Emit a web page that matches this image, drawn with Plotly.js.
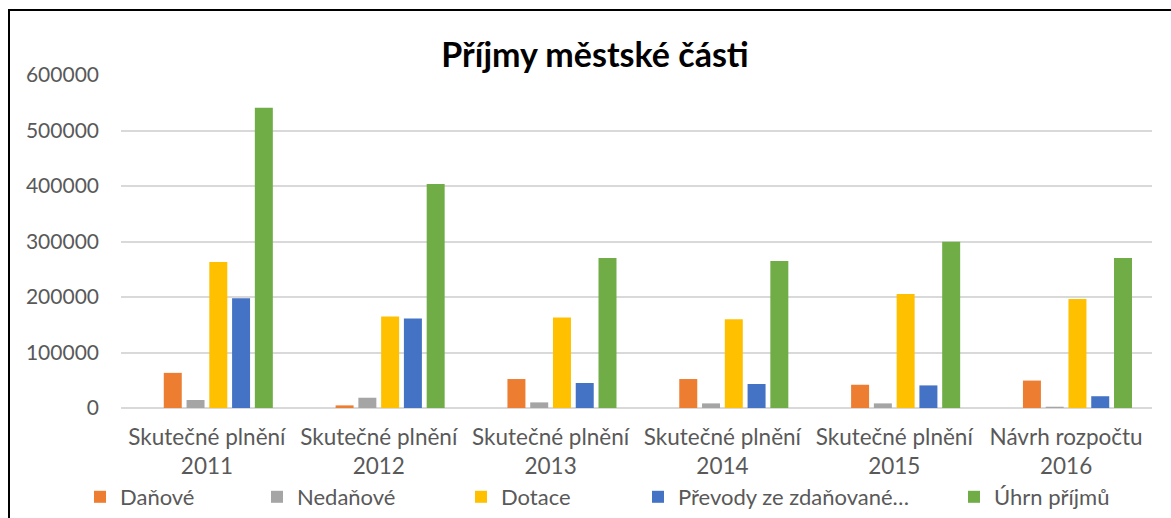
<!DOCTYPE html>
<html>
<head>
<meta charset="utf-8">
<script src="https://cdn.plot.ly/plotly-3.0.1.min.js"></script>
<style>
  html, body { margin: 0; padding: 0; background: #fff; }
  #wrap { position: relative; width: 1171px; height: 518px; overflow: hidden; }
  #chart { position: absolute; left: 0; top: 0; width: 1171px; height: 518px; }
  #frame { position: absolute; left: 8px; top: 9px; width: 3000px; height: 3000px;
           border-left: 2px solid #000; border-top: 2px solid #000; pointer-events: none; }
</style>
</head>
<body>
<div id="wrap">
  <div id="chart"></div>
  <div id="frame"></div>
</div>
<script>
const categories = [
  "Skutečné plnění<br>2011",
  "Skutečné plnění<br>2012",
  "Skutečné plnění<br>2013",
  "Skutečné plnění<br>2014",
  "Skutečné plnění<br>2015",
  "Návrh rozpočtu<br>2016"
];
const emptySeries = [null, null, null, null, null, null];
const danove    = [63300, 4700, 52200, 52200, 41900, 49400];
const nedanove  = [14400, 18500, 10100, 8300, 8300, 2300];
const dotace    = [263000, 164800, 163000, 160000, 205600, 196600];
const prevody   = [197800, 161200, 45000, 43200, 40700, 21200];
const uhrn      = [541000, 403400, 270300, 265000, 299700, 270300];
const seriesNames = ["Daňové", "Nedaňové", "Dotace", "Převody ze zdaňované…", "Úhrn příjmů"];
const yTicks = [0, 100000, 200000, 300000, 400000, 500000, 600000];

const colors = ["#ED7D31", "#A5A5A5", "#FFC000", "#4472C4", "#70AD47"];
const legendLeft = [94, 271, 475, 652, 968];
const FONT = "Lato, 'Open Sans', sans-serif";

const seriesData = [danove, nedanove, dotace, prevody, uhrn];
const traces = [{
  type: "bar", x: categories, y: emptySeries, showlegend: false,
  marker: { color: "rgba(0,0,0,0)" }, hoverinfo: "skip"
}];
seriesData.forEach((vals, i) => {
  traces.push({
    type: "bar", name: seriesNames[i], x: categories, y: vals,
    marker: { color: colors[i], line: { width: 0 } },
    legend: i === 0 ? "legend" : "legend" + (i + 1)
  });
});

const layout = {
  width: 1171, height: 518,
  paper_bgcolor: "#fff", plot_bgcolor: "#fff",
  margin: { l: 121, r: 19, t: 75, b: 110 },
  barmode: "group", bargap: 0.205, bargroupgap: 0.21,
  title: {
    text: "<b>Příjmy městské části</b>",
    font: { family: FONT, size: 34, color: "#000" },
    x: 595 / 1171, xanchor: "center", xref: "container",
    y: 1 - 55 / 518, yanchor: "middle", yref: "container"
  },
  xaxis: {
    type: "category", categoryorder: "array", categoryarray: categories,
    showgrid: false, showline: false, zeroline: false, ticks: "",
    tickfont: { family: FONT, size: 22.5, color: "#595959" },
    ticklabelstandoff: 13
  },
  yaxis: {
    range: [0, 600000], tickvals: yTicks, ticktext: yTicks.map(String),
    showgrid: true, gridcolor: "#D9D9D9", gridwidth: 2,
    zeroline: true, zerolinecolor: "#D9D9D9", zerolinewidth: 2,
    showline: false, ticks: "",
    tickfont: { family: FONT, size: 21, color: "#595959" },
    ticklabelstandoff: 21
  },
  font: { family: FONT, color: "#595959" },
  showlegend: true
};
legendLeft.forEach((px, i) => {
  const key = i === 0 ? "legend" : "legend" + (i + 1);
  layout[key] = {
    orientation: "h", xref: "container", yref: "container",
    x: (px - 14) / 1171, xanchor: "left",
    y: 1 - 497 / 518, yanchor: "middle",
    bgcolor: "rgba(0,0,0,0)", borderwidth: 0,
    font: { family: FONT, size: 22, color: "#595959" },
    itemclick: false, itemdoubleclick: false
  };
});

Plotly.newPlot("chart", traces, layout, { displayModeBar: false, staticPlot: true });
</script>
</body>
</html>
